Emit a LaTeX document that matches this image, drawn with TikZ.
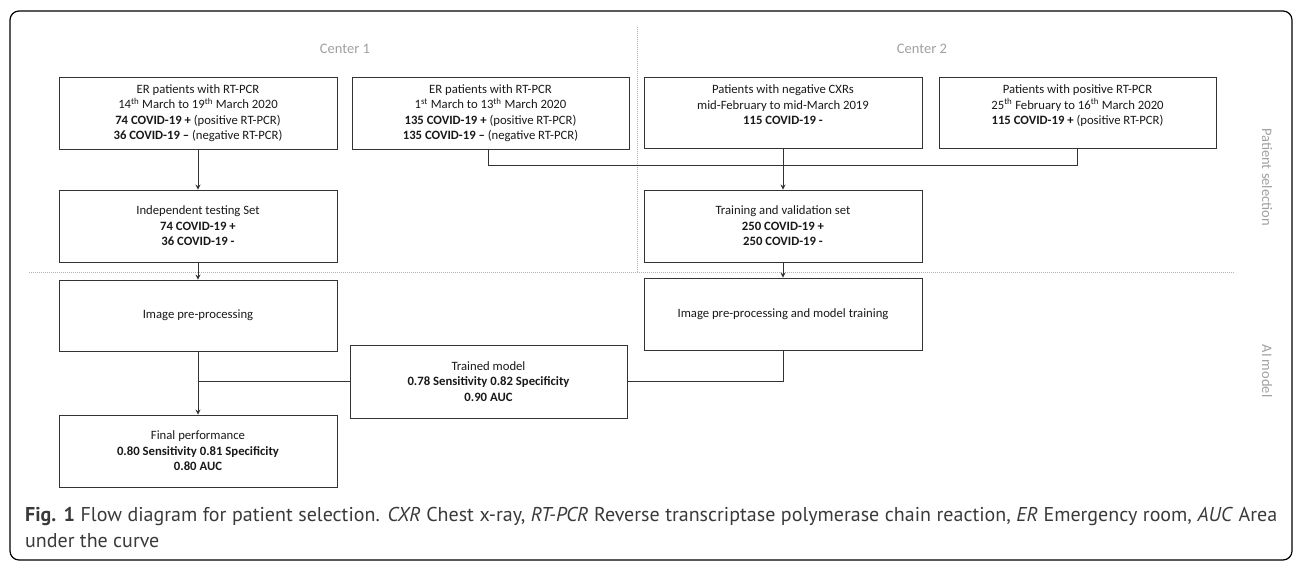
\documentclass[tikz,border=0pt]{standalone}
\usepackage{fontspec}
\setmainfont{Carlito}
\newfontfamily\capfont{PT Sans}
\usetikzlibrary{arrows.meta}
\definecolor{boxline}{HTML}{333333}
\definecolor{labgray}{HTML}{A0A0A0}
\definecolor{capgray}{HTML}{3A3A3A}
\begin{document}
\begin{tikzpicture}[x=1pt,y=-1pt,
  box/.style={draw=boxline, line width=0.9pt, minimum width=278pt, minimum height=72pt,
    inner sep=0pt, align=center, font=\fontsize{12.7}{15.5}\selectfont, text=black!90},
  conn/.style={draw=boxline, line width=0.9pt},
  arr/.style={conn, -{Stealth[length=5pt,width=5pt]}},
  sepline/.style={draw=black!30, line width=0.5pt, dash pattern=on 1pt off 1pt},
  lab/.style={text=labgray, font=\fontsize{14.5}{16}\selectfont, inner sep=0pt},
  captext/.style={text=capgray, font=\capfont\fontsize{20}{26}\selectfont, inner sep=0pt}]
\useasboundingbox (0,0) rectangle (1293,561);
% outer frame
\draw[line width=1.2pt, rounded corners=9pt] (10,11) rectangle (1292,560);
% separators
\draw[sepline] (29,272) -- (1235,272);
\draw[sepline] (637,27) -- (637,272);
% section labels
\node[lab] (c1) at (345,49) {Center 1};
\node[lab] (c2) at (922,49) {Center 2};
\node[lab, rotate=-90] (ps) at (1267,177) {Patient selection};
\node[lab, rotate=-90] (ai) at (1267,371) {AI model};
% boxes
\node[box] (A) at (198,113) {ER patients with RT-PCR\\14\textsuperscript{th} March to 19\textsuperscript{th} March 2020\\\textbf{74 COVID-19 +} (positive RT-PCR)\\\textbf{36 COVID-19 --} (negative RT-PCR)};
\node[box, minimum width=277pt] (B) at (490.5,113) {ER patients with RT-PCR\\1\textsuperscript{st} March to 13\textsuperscript{th} March 2020\\\textbf{135 COVID-19 +} (positive RT-PCR)\\\textbf{135 COVID-19 --} (negative RT-PCR)};
\node[box, minimum height=71pt] (C) at (783,112.5) {Patients with negative CXRs\\mid-February to mid-March 2019\\\textbf{115 COVID-19 -}\\\phantom{X}};
\node[box, minimum width=277pt, minimum height=71pt] (D) at (1077.5,112.5) {Patients with positive RT-PCR\\25\textsuperscript{th} February to 16\textsuperscript{th} March 2020\\\textbf{115 COVID-19 +} (positive RT-PCR)\\\phantom{X}};
\node[box] (E) at (198,226) {Independent testing Set\\\textbf{74 COVID-19 +}\\\textbf{36 COVID-19 -}};
\node[box] (F) at (783,226) {Training and validation set\\\textbf{250 COVID-19 +}\\\textbf{250 COVID-19 -}};
\node[box, minimum height=71pt] (G) at (198,315.5) {Image pre-processing};
\node[box] (H) at (783,314) {Image pre-processing and model training};
\node[box, minimum width=277pt, minimum height=73pt] (I) at (488.5,381.5) {Trained model\\\textbf{0.78 Sensitivity 0.82 Specificity}\\\textbf{0.90 AUC}};
\node[box] (J) at (198,451) {Final performance\\\textbf{0.80 Sensitivity 0.81 Specificity}\\\textbf{0.80 AUC}};
% connectors
\coordinate (bj) at (488,165);
\draw[arr] (A) -- (E);
\draw[conn] (B.south -| bj) -- (bj) -| (D.south);
\draw[arr] (C) -- (F);
\draw[arr] (E) -- (G);
\draw[arr] (F) -- (H);
\draw[arr] (G) -- (J);
\draw[conn] (I.west) -- (I.west -| G.south);
\draw[conn] (H.south) |- (I.east);
% caption
\node[captext, anchor=base west] (cap1) at (25,521) {\makebox[1252pt][s]{\textbf{Fig. 1} Flow diagram for patient selection. \textit{CXR} Chest x-ray, \textit{RT-PCR} Reverse transcriptase polymerase chain reaction, \textit{ER} Emergency room, \textit{AUC} Area}};
\node[captext, anchor=base west] (cap2) at (25,547) {under the curve};
\end{tikzpicture}
\end{document}
